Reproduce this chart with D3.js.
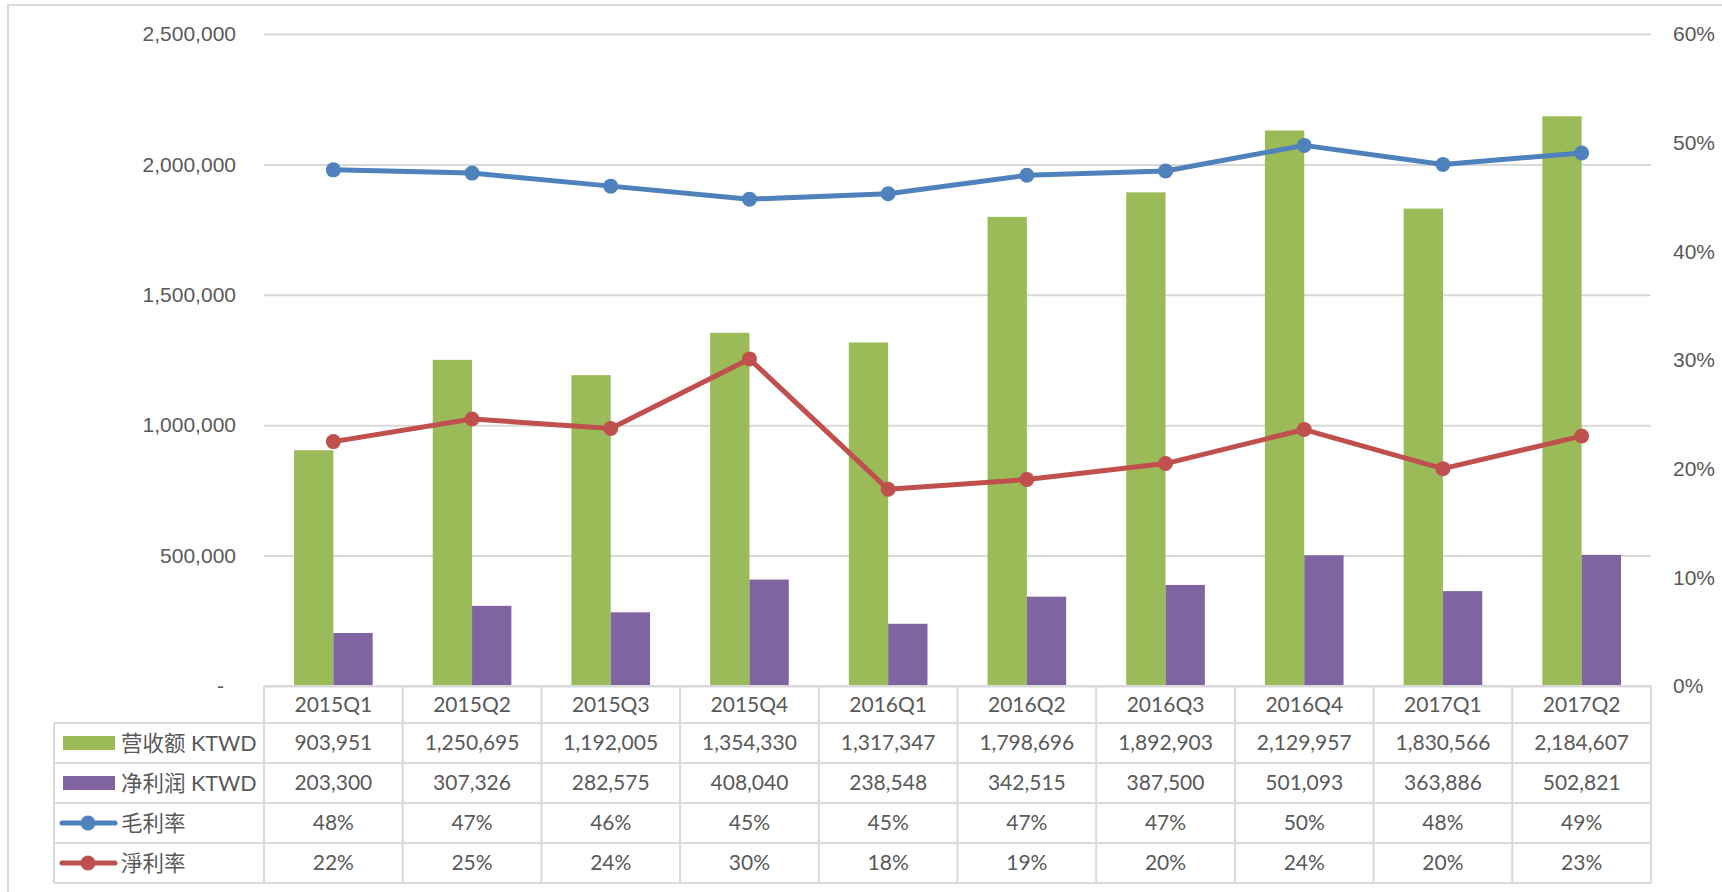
<!DOCTYPE html>
<html>
<head>
<meta charset="utf-8">
<script src="https://cdn.jsdelivr.net/npm/d3@7"></script>
<style>
  body { margin: 0; background: #fff; }
  svg { display: block; font-family: Lato, "Noto Sans CJK SC", sans-serif; }
  .lbl { fill: #595959; font-size: 21px; }
  .legend-text { fill: #595959; font-size: 21.5px; }
</style>
</head>
<body>
<div id="chart"><svg width="1722" height="892"></svg></div>
<script>
// Datas
const categories = ["2015Q1", "2015Q2", "2015Q3", "2015Q4", "2016Q1", "2016Q2", "2016Q3", "2016Q4", "2017Q1", "2017Q2"];
const revenue = [903951, 1250695, 1192005, 1354330, 1317347, 1798696, 1892903, 2129957, 1830566, 2184607];
const netProfit = [203300, 307326, 282575, 408040, 238548, 342515, 387500, 501093, 363886, 502821];
const grossMargin = [0.475, 0.472, 0.46, 0.448, 0.453, 0.47, 0.474, 0.4975, 0.48, 0.4905];
const netMargin = [0.2249, 0.2457, 0.237, 0.301, 0.181, 0.19, 0.2047, 0.236, 0.2, 0.23];
const grossMarginLabels = ["48%", "47%", "46%", "45%", "45%", "47%", "47%", "50%", "48%", "49%"];
const netMarginLabels = ["22%", "25%", "24%", "30%", "18%", "19%", "20%", "24%", "20%", "23%"];
const leftTicks = [0, 500000, 1000000, 1500000, 2000000, 2500000];
const rightTicks = [0, 0.1, 0.2, 0.3, 0.4, 0.5, 0.6];
const seriesNames = ["营收额 KTWD", "净利润 KTWD", "毛利率", "淨利率"];

// Colors
const green = "#9BBB59";
const purple = "#8064A2";
const blue = "#4F81BD";
const red = "#C0504D";
const gridColor = "#D9D9D9";

const svg = d3.select("#chart svg");

// Outer border
svg.append("rect")
  .attr("x", 8).attr("y", 5)
  .attr("width", 1730).attr("height", 900)
  .attr("fill", "none")
  .attr("stroke", gridColor)
  .attr("stroke-width", 2);

// Constants
const plotLeft = 264;
const plotRight = 1651;
const plotTop = 34;
const plotBottom = 686;
const plotWidth = plotRight - plotLeft;

// Scales
const xScale = d3.scaleBand().domain(categories).range([plotLeft, plotRight]).padding(0);
const groupWidth = xScale.bandwidth() * 0.567;
const xSub = d3.scaleBand().domain(["rev", "net"]).range([-groupWidth / 2, groupWidth / 2]);
const yLeft = d3.scaleLinear().domain([0, 2500000]).range([plotBottom, plotTop]);
const yRight = d3.scaleLinear().domain([0, 0.6]).range([plotBottom, plotTop]);
const xCenter = (i) => xScale(categories[i]) + xScale.bandwidth() / 2;

// Left axis + grid
const leftAxis = d3.axisLeft(yLeft)
  .tickValues(leftTicks)
  .tickFormat((d) => (d === 0 ? "-" : d3.format(",")(d)))
  .tickSize(-plotWidth)
  .tickPadding(28);
const gLeft = svg.append("g").attr("transform", `translate(${plotLeft}, 0)`).call(leftAxis);
gLeft.select(".domain").remove();
gLeft.selectAll(".tick line").attr("stroke", gridColor).attr("stroke-width", 2);
gLeft.selectAll(".tick text").attr("class", "lbl").attr("font-family", null).attr("font-size", null);
gLeft.selectAll(".tick").filter((d) => d === 0).select("text").attr("x", -40);

// Right axis
const rightAxis = d3.axisRight(yRight)
  .tickValues(rightTicks)
  .tickFormat(d3.format(".0%"))
  .tickSize(0)
  .tickPadding(22);
const gRight = svg.append("g").attr("transform", `translate(${plotRight}, 0)`).call(rightAxis);
gRight.select(".domain").remove();
gRight.selectAll(".tick text").attr("class", "lbl").attr("font-family", null).attr("font-size", null);

// Bars
const bars = svg.append("g");
bars.selectAll(".rev")
  .data(revenue)
  .join("rect")
  .attr("x", (d, i) => xCenter(i) + xSub("rev"))
  .attr("y", (d) => yLeft(d))
  .attr("width", xSub.bandwidth())
  .attr("height", (d) => yLeft(0) - yLeft(d))
  .attr("fill", green);
bars.selectAll(".net")
  .data(netProfit)
  .join("rect")
  .attr("x", (d, i) => xCenter(i) + xSub("net"))
  .attr("y", (d) => yLeft(d))
  .attr("width", xSub.bandwidth())
  .attr("height", (d) => yLeft(0) - yLeft(d))
  .attr("fill", purple);

// Lines
const line = d3.line()
  .x((d, i) => xCenter(i))
  .y((d) => yRight(d));

function drawLine(values, color) {
  const g = svg.append("g");
  g.append("path")
    .datum(values)
    .attr("fill", "none")
    .attr("stroke", color)
    .attr("stroke-width", 5)
    .attr("stroke-linejoin", "round")
    .attr("d", line);
  g.selectAll("circle")
    .data(values)
    .join("circle")
    .attr("cx", (d, i) => xCenter(i))
    .attr("cy", (d) => yRight(d))
    .attr("r", 7.5)
    .attr("fill", color);
}
drawLine(grossMargin, blue);
drawLine(netMargin, red);

// Data table
const headerBottom = 723;
const rowHeight = 40;
const legendLeft = 54;
const rows = [
  { name: seriesNames[0], type: "bar", color: green, cells: revenue.map(d3.format(",")) },
  { name: seriesNames[1], type: "bar", color: purple, cells: netProfit.map(d3.format(",")) },
  { name: seriesNames[2], type: "line", color: blue, cells: grossMarginLabels },
  { name: seriesNames[3], type: "line", color: red, cells: netMarginLabels },
];
const tableBottom = headerBottom + rows.length * rowHeight;
const table = svg.append("g");

// table lines
table.append("line")
  .attr("x1", plotLeft).attr("x2", plotRight)
  .attr("y1", plotBottom).attr("y2", plotBottom);
rows.forEach((r, i) => {
  table.append("line")
    .attr("x1", legendLeft).attr("x2", plotRight)
    .attr("y1", headerBottom + i * rowHeight).attr("y2", headerBottom + i * rowHeight);
});
table.append("line")
  .attr("x1", legendLeft).attr("x2", plotRight)
  .attr("y1", tableBottom).attr("y2", tableBottom);
table.append("line")
  .attr("x1", legendLeft).attr("x2", legendLeft)
  .attr("y1", headerBottom).attr("y2", tableBottom);
categories.concat([null]).forEach((c) => {
  const x = c === null ? plotRight : xScale(c);
  table.append("line")
    .attr("x1", x).attr("x2", x)
    .attr("y1", plotBottom).attr("y2", tableBottom);
});
table.selectAll("line").attr("stroke", gridColor).attr("stroke-width", 2);

// header
table.selectAll(".hdr")
  .data(categories)
  .join("text")
  .attr("class", "lbl")
  .attr("x", (d) => xScale(d) + xScale.bandwidth() / 2)
  .attr("y", (plotBottom + headerBottom) / 2)
  .attr("dy", "0.35em")
  .attr("text-anchor", "middle")
  .text((d) => d);

// rows
rows.forEach((r, i) => {
  const cy = headerBottom + i * rowHeight + rowHeight / 2;
  table.append("g")
    .selectAll("text")
    .data(r.cells)
    .join("text")
    .attr("class", "lbl")
    .attr("x", (d, j) => xCenter(j))
    .attr("y", cy)
    .attr("dy", "0.35em")
    .attr("text-anchor", "middle")
    .text((d) => d);

  // legend key
  if (r.type === "bar") {
    table.append("rect")
      .attr("x", 63).attr("y", cy - 7)
      .attr("width", 52).attr("height", 14)
      .attr("fill", r.color);
  } else {
    table.append("line")
      .attr("x1", 62).attr("x2", 115)
      .attr("y1", cy).attr("y2", cy)
      .attr("stroke", r.color)
      .attr("stroke-width", 5)
      .attr("stroke-linecap", "round");
    table.append("circle")
      .attr("cx", 88).attr("cy", cy)
      .attr("r", 7.5)
      .attr("fill", r.color);
  }
  table.append("text")
    .attr("class", "legend-text")
    .attr("x", 121)
    .attr("y", cy)
    .attr("dy", "0.35em")
    .text(r.name);
});
</script>
</body>
</html>
